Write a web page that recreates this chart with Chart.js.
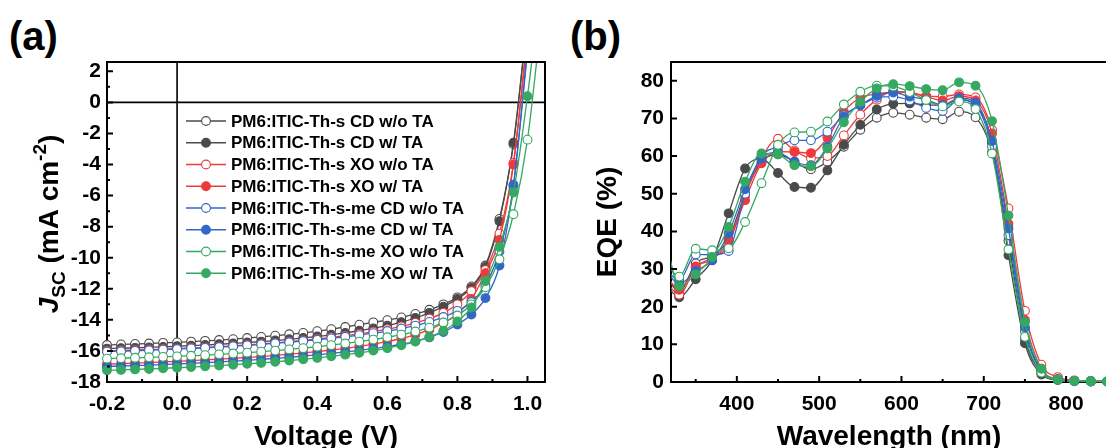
<!DOCTYPE html>
<html>
<head>
<meta charset="utf-8">
<script src="https://cdn.jsdelivr.net/npm/chart.js@4/dist/chart.umd.min.js"></script>
<style>
  html, body { margin: 0; padding: 0; background: #fff; overflow: hidden; }
  body { width: 1106px; height: 448px; position: relative; }
  #wrapA { position: absolute; left: 0; top: 0; width: 560px; height: 448px; }
  #wrapB { position: absolute; left: 560px; top: 0; width: 600px; height: 448px; }
  .panel { position: absolute; font: bold 40px "Liberation Sans", Arial, sans-serif; line-height: 1; }
</style>
</head>
<body>
<div class="panel" style="left:9px; top:16px">(a)</div>
<div class="panel" style="left:570px; top:16px">(b)</div>
<div id="wrapA"><canvas id="jv" width="560" height="448"></canvas></div>
<div id="wrapB"><canvas id="eqe" width="600" height="448"></canvas></div>
<script>
const FONT = '"Liberation Sans", Arial, sans-serif';

// legend / series
const seriesNames = [
  "PM6:ITIC-Th-s CD w/o TA",
  "PM6:ITIC-Th-s CD w/ TA",
  "PM6:ITIC-Th-s XO w/o TA",
  "PM6:ITIC-Th-s XO w/ TA",
  "PM6:ITIC-Th-s-me CD w/o TA",
  "PM6:ITIC-Th-s-me CD w/ TA",
  "PM6:ITIC-Th-s-me XO w/o TA",
  "PM6:ITIC-Th-s-me XO w/ TA"
];
const colors = ["#4a4a4a", "#4a4a4a", "#ee3a3a", "#ee3a3a", "#3267c6", "#3267c6", "#35a862", "#35a862"];
const filled = [false, true, false, true, false, true, false, true];

// (a) J-V
const voltage = [-0.2, -0.16, -0.12, -0.08, -0.04, 0, 0.04, 0.08, 0.12, 0.16, 0.2, 0.24, 0.28, 0.32, 0.36, 0.4,
  0.44, 0.48, 0.52, 0.56, 0.6, 0.64, 0.68, 0.72, 0.76, 0.8, 0.84, 0.88, 0.92, 0.96, 1.0, 1.04];
const jvCdWo = [-15.62, -15.58, -15.55, -15.52, -15.48, -15.45, -15.4, -15.35, -15.3, -15.24, -15.17, -15.1, -15.02, -14.93, -14.84, -14.73,
  -14.6, -14.46, -14.31, -14.16, -14.02, -13.84, -13.62, -13.35, -13.0, -12.55, -11.85, -10.5, -7.5, -2.7, 5.5, 14];
const jvCdW = [-15.85, -15.82, -15.8, -15.77, -15.74, -15.7, -15.66, -15.62, -15.57, -15.52, -15.46, -15.4, -15.33, -15.25, -15.16, -15.07,
  -14.96, -14.84, -14.7, -14.55, -14.37, -14.15, -13.88, -13.55, -13.15, -12.65, -11.95, -10.6, -7.65, -2.6, 5.4, 14];
const jvXoWo = [-16.0, -15.97, -15.94, -15.91, -15.88, -15.85, -15.81, -15.77, -15.72, -15.67, -15.61, -15.55, -15.48, -15.4, -15.32, -15.23,
  -15.13, -15.02, -14.9, -14.76, -14.6, -14.42, -14.2, -13.92, -13.55, -13.0, -12.15, -10.8, -8.45, -3.9, 4.5, 13];
const jvXoW = [-16.85, -16.82, -16.78, -16.75, -16.71, -16.67, -16.63, -16.58, -16.53, -16.48, -16.42, -16.36, -16.29, -16.21, -16.13, -16.04,
  -15.94, -15.83, -15.7, -15.56, -15.4, -15.2, -14.95, -14.63, -14.2, -13.6, -12.65, -11.0, -8.85, -4.0, 4.2, 12.5];
const jvMeCdWo = [-16.05, -16.02, -15.99, -15.96, -15.92, -15.88, -15.84, -15.8, -15.75, -15.7, -15.64, -15.58, -15.51, -15.44, -15.36, -15.28,
  -15.19, -15.09, -14.98, -14.86, -14.72, -14.56, -14.37, -14.13, -13.82, -13.42, -12.85, -11.75, -9.6, -5.4, 3.5, 12];
const jvMeCdW = [-17.0, -16.97, -16.94, -16.91, -16.88, -16.84, -16.8, -16.76, -16.71, -16.66, -16.6, -16.54, -16.48, -16.41, -16.33, -16.25,
  -16.16, -16.07, -15.97, -15.85, -15.72, -15.57, -15.38, -15.13, -14.78, -14.3, -13.65, -12.6, -10.5, -5.3, 3.2, 12];
const jvMeXoWo = [-16.5, -16.47, -16.44, -16.41, -16.38, -16.35, -16.31, -16.27, -16.22, -16.17, -16.11, -16.05, -15.98, -15.9, -15.82, -15.73,
  -15.63, -15.52, -15.4, -15.27, -15.12, -14.95, -14.75, -14.5, -14.17, -13.72, -13.0, -11.9, -10.1, -7.2, -2.4, 5.5];
const jvMeXoW = [-17.25, -17.22, -17.19, -17.16, -17.12, -17.08, -17.04, -16.99, -16.94, -16.89, -16.83, -16.77, -16.7, -16.62, -16.54, -16.45,
  -16.35, -16.24, -16.12, -15.98, -15.82, -15.63, -15.4, -15.1, -14.7, -14.1, -13.2, -11.5, -9.3, -5.8, 0.4, 8];
const jvSeries = [jvCdWo, jvCdW, jvXoWo, jvXoW, jvMeCdWo, jvMeCdW, jvMeXoWo, jvMeXoW];

const vTicks = [-0.2, 0, 0.2, 0.4, 0.6, 0.8, 1.0];
const vMinor = [-0.1, 0.1, 0.3, 0.5, 0.7, 0.9];
const jTicks = [-18, -16, -14, -12, -10, -8, -6, -4, -2, 0, 2];
const jMinor = [-17, -15, -13, -11, -9, -7, -5, -3, -1, 1];

// (b) EQE
const wavelength = [310, 330, 350, 370, 390, 410, 430, 450, 470, 490, 510, 530, 550, 570, 590, 610, 630, 650, 670, 690,
  710, 730, 750, 770, 790, 810, 830, 850];
const eqeCdWo = [30, 24, 31.5, 33.5, 38, 50, 58.5, 60.5, 58.5, 56.5, 58.5, 62.5, 67, 70.2, 71.5, 71, 70.2, 69.8, 71.8, 70.3,
  61, 37.5, 11.5, 2.5, 0.6, 0.3, 0.2, 0.1];
const eqeCdW = [27, 22.5, 27.3, 32.5, 44.8, 56.7, 59.3, 55.5, 51.8, 51.6, 56.2, 63.0, 68.3, 72.4, 73.9, 74.0, 73.6, 73.5, 75.0, 73.5,
  63.5, 33.7, 10.3, 2.0, 0.5, 0.2, 0.1, 0.1];
const eqeXoWo = [28, 23.2, 30.5, 33, 36.5, 49.5, 59.5, 64.6, 61.5, 59.5, 60, 65.5, 71, 75, 77.2, 76.9, 76, 75.8, 76.4, 75.6,
  67, 46.1, 18.9, 4.6, 1.3, 0.4, 0.2, 0.1];
const eqeXoW = [30, 24.5, 30.7, 32.5, 37.5, 48.3, 58.1, 61.2, 61.1, 60.8, 64.9, 71.8, 75.5, 76.5, 77, 76.8, 75.8, 74.8, 75.9, 74.8,
  66, 42, 16.5, 3.5, 0.8, 0.3, 0.2, 0.1];
const eqeMeCdWo = [31, 27, 33.9, 33.8, 34.8, 50, 60, 62.5, 64.2, 64.2, 66.5, 70.8, 73.5, 75.5, 75.8, 74.8, 72.8, 72.0, 75.0, 73.5,
  62.5, 39, 13.5, 3.0, 0.7, 0.3, 0.2, 0.1];
const eqeMeCdW = [31, 26, 29.5, 32.3, 39.5, 51.2, 59.3, 61, 58.5, 57.6, 62.5, 70.5, 73.5, 76, 76.9, 75.8, 75, 73.6, 75.4, 74.2,
  64, 40.8, 14.5, 3.0, 0.7, 0.3, 0.2, 0.1];
const eqeMeXoWo = [33, 28, 35.4, 35, 35.5, 42.5, 52.8, 63, 66.3, 66.5, 69.2, 73.7, 77.1, 78.7, 78.5, 77, 74.9, 73.2, 74.5, 72.5,
  60.7, 35.2, 12, 2.5, 0.6, 0.3, 0.2, 0.1];
const eqeMeXoW = [42, 25.4, 28.6, 33.2, 41.2, 53.2, 60.7, 60.5, 57.6, 57.3, 62, 69, 74.4, 78, 79.1, 78.6, 77.8, 77.5, 79.6, 78.7,
  69.3, 44.2, 15.9, 3.5, 0.6, 0.3, 0.2, 0.2];
const eqeSeries = [eqeCdWo, eqeCdW, eqeXoWo, eqeXoW, eqeMeCdWo, eqeMeCdW, eqeMeXoWo, eqeMeXoW];

const wlTicks = [400, 500, 600, 700, 800];
const wlMinor = [350, 450, 550, 650, 750, 850];
const eqeTicks = [0, 10, 20, 30, 40, 50, 60, 70, 80];

function makeDatasets(xs, series, clip) {
  return series.map((ys, i) => ({
    label: seriesNames[i],
    data: xs.map((x, k) => ({ x: x, y: ys[k] })),
    borderColor: colors[i],
    borderWidth: 1.3,
    pointRadius: 4.4,
    pointBorderWidth: 1.1,
    pointBackgroundColor: filled[i] ? colors[i] : "#fff",
    pointBorderColor: colors[i],
    cubicInterpolationMode: "monotone",
    clip: clip,
    order: 7 - i
  }));
}

function axisOpts(min, max, tickVals, fmt, fit, pad) {
  return {
    type: "linear", min: min, max: max,
    afterBuildTicks: s => { s.ticks = tickVals.map(v => ({ value: v })); },
    afterFit: fit,
    grid: { display: false, drawTicks: false, tickLength: 0 },
    border: { display: true, color: "#000", width: 2 },
    ticks: { color: "#000", font: { family: FONT, size: 21, weight: "bold" }, padding: pad,
      maxRotation: 0, autoSkip: false, callback: fmt }
  };
}

// inward ticks
function drawTicks(chart, id, majors, minors) {
  const s = chart.scales[id], a = chart.chartArea, ctx = chart.ctx;
  ctx.save();
  ctx.strokeStyle = "#000";
  ctx.lineWidth = 2;
  ctx.beginPath();
  const seg = (v, len) => {
    const p = s.getPixelForValue(v);
    if (s.isHorizontal()) { ctx.moveTo(p, a.bottom); ctx.lineTo(p, a.bottom - len); }
    else { ctx.moveTo(a.left, p); ctx.lineTo(a.left + len, p); }
  };
  majors.forEach(v => seg(v, 6));
  minors.forEach(v => seg(v, 3));
  ctx.stroke();
  ctx.restore();
}

function drawText(ctx, txt, x, y, font, align) {
  ctx.font = font;
  ctx.fillStyle = "#000";
  ctx.textAlign = align || "center";
  ctx.textBaseline = "alphabetic";
  ctx.fillText(txt, x, y);
}

function drawRotated(ctx, parts, cx, cy) {
  ctx.save();
  ctx.translate(cx, cy);
  ctx.rotate(-Math.PI / 2);
  ctx.fillStyle = "#000";
  ctx.textBaseline = "alphabetic";
  ctx.textAlign = "left";
  let w = 0;
  parts.forEach(p => { ctx.font = p.f; p.w = ctx.measureText(p.t).width; w += p.w; });
  let x = -w / 2;
  parts.forEach(p => { ctx.font = p.f; ctx.fillText(p.t, x, 10 + p.dy); x += p.w; });
  ctx.restore();
}

const decoA = {
  id: "decoA",
  beforeDatasetsDraw(chart) {
    const ctx = chart.ctx, a = chart.chartArea;
    const x0 = chart.scales.x.getPixelForValue(0), y0 = chart.scales.y.getPixelForValue(0);
    ctx.save();
    ctx.strokeStyle = "#000";
    ctx.lineWidth = 1.6;
    ctx.beginPath();
    ctx.moveTo(a.left, y0); ctx.lineTo(a.right, y0);
    ctx.moveTo(x0, a.top); ctx.lineTo(x0, a.bottom);
    ctx.stroke();
    ctx.restore();
  },
  afterDraw(chart) {
    const ctx = chart.ctx, a = chart.chartArea;
    ctx.save();
    ctx.strokeStyle = "#000";
    ctx.lineWidth = 2;
    ctx.beginPath();
    ctx.moveTo(a.left - 1, a.top); ctx.lineTo(a.right, a.top); ctx.lineTo(a.right, a.bottom + 1);
    ctx.stroke();
    ctx.restore();
    drawTicks(chart, "x", vTicks, vMinor);
    drawTicks(chart, "y", jTicks, jMinor);

    // legend
    ctx.save();
    seriesNames.forEach((name, i) => {
      const y = 121 + i * 21.75;
      ctx.strokeStyle = colors[i];
      ctx.lineWidth = 1.5;
      ctx.beginPath(); ctx.moveTo(186, y); ctx.lineTo(226, y); ctx.stroke();
      ctx.beginPath(); ctx.arc(206, y, 4.4, 0, Math.PI * 2);
      ctx.fillStyle = filled[i] ? colors[i] : "#fff";
      ctx.fill();
      ctx.lineWidth = 1.1;
      ctx.stroke();
      ctx.font = "bold 17px " + FONT;
      ctx.fillStyle = "#000";
      ctx.textAlign = "left";
      ctx.textBaseline = "middle";
      ctx.fillText(name, 231, y + 1);
    });
    ctx.restore();

    // axis titles
    drawText(ctx, "Voltage (V)", (a.left + a.right) / 2, 445, "bold 28px " + FONT);
    const big = "bold 28px " + FONT, small = "bold 19px " + FONT;
    drawRotated(ctx, [
      { t: "J", f: "italic bold 28px " + FONT, dy: 0 },
      { t: "SC", f: small, dy: 7 },
      { t: " (mA cm", f: big, dy: 0 },
      { t: "-2", f: small, dy: -12 },
      { t: ")", f: big, dy: 0 }
    ], 48, 224);
  }
};

const decoB = {
  id: "decoB",
  afterDraw(chart) {
    const ctx = chart.ctx, a = chart.chartArea;
    ctx.save();
    ctx.strokeStyle = "#000";
    ctx.lineWidth = 2;
    ctx.beginPath();
    ctx.moveTo(a.left - 1, a.top); ctx.lineTo(chart.width, a.top);
    ctx.stroke();
    ctx.restore();
    drawTicks(chart, "x", wlTicks, wlMinor);
    drawTicks(chart, "y", eqeTicks, []);
    drawText(ctx, "Wavelength (nm)", 329, 445, "bold 28px " + FONT);
    drawRotated(ctx, [{ t: "EQE (%)", f: "bold 28px " + FONT, dy: 0 }], 46, 222);
  }
};

new Chart(document.getElementById("jv"), {
  type: "line",
  data: { datasets: makeDatasets(voltage, jvSeries, { left: 6, top: 0, right: 0, bottom: 6 }) },
  options: {
    responsive: false, animation: false,
    layout: { padding: { left: 0, right: 15, top: 62, bottom: 0 } },
    plugins: { legend: { display: false }, tooltip: { enabled: false } },
    scales: {
      x: axisOpts(-0.2, 1.05, vTicks, v => v.toFixed(1), s => { s.height = 66; }, 10),
      y: axisOpts(-18, 2.6, jTicks, v => String(v), s => { s.width = 107; }, 6)
    }
  },
  plugins: [decoA]
});

new Chart(document.getElementById("eqe"), {
  type: "line",
  data: { datasets: makeDatasets(wavelength, eqeSeries, { left: 0, top: 0, right: 8, bottom: 8 }) },
  options: {
    responsive: false, animation: false,
    layout: { padding: { left: 0, right: 11.6, top: 62, bottom: 0 } },
    plugins: { legend: { display: false }, tooltip: { enabled: false } },
    scales: {
      x: axisOpts(320, 900, wlTicks, v => String(v), s => { s.height = 66; }, 10),
      y: axisOpts(0, 85, eqeTicks, v => String(v), s => { s.width = 111; }, 7)
    }
  },
  plugins: [decoB]
});
</script>
</body>
</html>
